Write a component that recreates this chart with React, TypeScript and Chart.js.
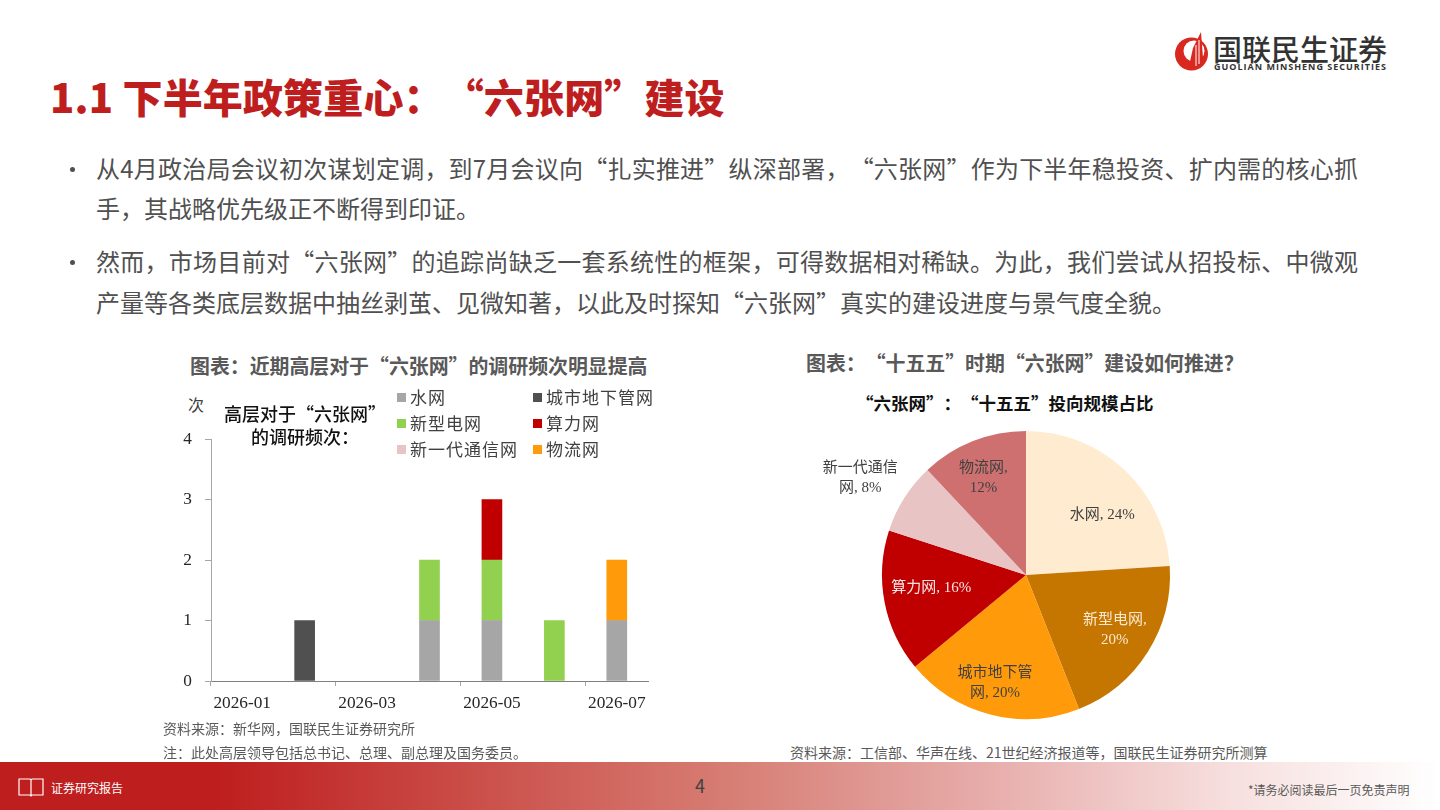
import React, { useEffect, useRef } from "react";
import { Chart, registerables } from "chart.js";

Chart.register(...registerables);

const months = ["2026-01", "2026-02", "2026-03", "2026-04", "2026-05", "2026-06", "2026-07"];
const water = [null, null, null, 1, 1, null, 1];
const urbanPipe = [null, 1, null, null, null, null, null];
const newGrid = [null, null, null, 1, 1, 1, null];
const computing = [null, null, null, null, 1, null, null];
const telecom = [null, null, null, null, null, null, null];
const logistics = [null, null, null, null, null, null, 1];

const pieLabels = ["水网", "新型电网", "城市地下管网", "算力网", "新一代通信网", "物流网"];
const pieValues = [24, 20, 20, 16, 8, 12];
const pieLines = [["水网, 24%"], ["新型电网,", "20%"], ["城市地下管", "网, 20%"], ["算力网, 16%"], ["新一代通信", "网, 8%"], ["物流网,", "12%"]];
const pieColors = ["#FFEBD0", "#C47600", "#FF9A0A", "#C00000", "#E8C4C4", "#CF7070"];
const pieNudge = [[27, -7], [28, 16], [-13, 38], [-24, 0], [-105, -58], [-16, -30]];

const SERIF = '"Liberation Serif","Noto Sans CJK SC",serif';
const SANS = '"Noto Sans CJK SC",sans-serif';
const AXIS = "#A6A6A6";

const abs = (left: number, top: number, extra: React.CSSProperties = {}): React.CSSProperties => ({
  position: "absolute", left, top, whiteSpace: "nowrap", ...extra,
});

const bodyLine = (left: number, top: number): React.CSSProperties =>
  abs(left, top, { width: 1262, fontSize: 24, color: "#505050", lineHeight: "40px", whiteSpace: "normal", textAlign: "justify", textAlignLast: "justify" });

const pieTextPlugin = {
  id: "pieText",
  afterDatasetsDraw(chart: any) {
    const { ctx } = chart;
    chart.getDatasetMeta(0).data.forEach((arc: any, i: number) => {
      const p = arc.tooltipPosition();
      const lines = pieLines[i];
      ctx.save();
      ctx.font = `15px ${SERIF}`;
      ctx.textAlign = "center";
      ctx.textBaseline = "middle";
      ctx.fillStyle = i === 1 ? "#FBE9D0" : i === 3 ? "#F7E6E6" : "#404040";
      lines.forEach((t, k) => {
        ctx.fillText(t, p.x + pieNudge[i][0], p.y + pieNudge[i][1] + (k - (lines.length - 1) / 2) * 20);
      });
      ctx.restore();
    });
  },
};

const legend = [
  ["水网", "#A6A6A6", 397, 397],
  ["城市地下管网", "#505050", 533, 397],
  ["新型电网", "#92D050", 397, 423],
  ["算力网", "#C00000", 533, 423],
  ["新一代通信网", "#E8C4C4", 397, 449],
  ["物流网", "#FF9A0A", 533, 449],
] as const;

export default function App() {
  const barRef = useRef<HTMLCanvasElement>(null);
  const pieRef = useRef<HTMLCanvasElement>(null);

  useEffect(() => {
    const mk = (label: string, data: (number | null)[], backgroundColor: string) => ({
      label, data, backgroundColor, stack: "s", barThickness: 20,
    });
    const bar = new Chart(barRef.current!, {
      type: "bar",
      data: {
        labels: months,
        datasets: [
          mk("水网", water, "#A6A6A6"),
          mk("城市地下管网", urbanPipe, "#505050"),
          mk("新型电网", newGrid, "#92D050"),
          mk("算力网", computing, "#C00000"),
          mk("新一代通信网", telecom, "#E8C4C4"),
          mk("物流网", logistics, "#FF9A0A"),
        ],
      },
      options: {
        animation: false,
        responsive: false,
        maintainAspectRatio: false,
        layout: { padding: { left: 0, right: 22, top: 9, bottom: 0 } },
        plugins: { legend: { display: false }, tooltip: { enabled: false } },
        scales: {
          x: {
            stacked: true,
            afterFit: (s: any) => { s.height = 39; s.paddingLeft = 0; s.paddingRight = 0; },
            grid: {
              display: true, drawOnChartArea: false, drawTicks: true, tickLength: 5, offset: true,
              tickColor: (c: any) => (c.index % 2 === 0 ? AXIS : "rgba(0,0,0,0)"),
            } as any,
            border: { color: "#808080" },
            ticks: { autoSkip: false, maxRotation: 0, padding: 7, color: "#262626", font: { family: SERIF, size: 17.3 },
              callback: (_v: any, i: number) => (i % 2 === 0 ? months[i] : "") },
          },
          y: {
            stacked: true, min: 0, max: 4,
            afterFit: (s: any) => { s.width = 61; s.paddingTop = 0; s.paddingBottom = 0; },
            grid: { display: true, drawOnChartArea: false, drawTicks: true, tickLength: 6, tickColor: AXIS } as any,
            border: { color: AXIS },
            ticks: { stepSize: 1, padding: 13, color: "#262626", font: { family: SERIF, size: 17.3 } },
          },
        },
      },
    });
    const pie = new Chart(pieRef.current!, {
      type: "pie",
      data: { labels: pieLabels, datasets: [{ data: pieValues, backgroundColor: pieColors, borderColor: "#FFFFFF", borderWidth: 0 }] },
      options: {
        animation: false,
        responsive: false,
        maintainAspectRatio: false,
        layout: { padding: { left: 66, right: 6, top: 6, bottom: 6 } },
        plugins: { legend: { display: false }, tooltip: { enabled: false } },
      },
      plugins: [pieTextPlugin],
    });
    return () => { bar.destroy(); pie.destroy(); };
  }, []);

  return (
    <div lang="zh-CN" style={{ position: "absolute", left: 0, top: 0, width: 1440, height: 810, background: "#fff", overflow: "hidden", fontFamily: SANS, textSpacingTrim: "space-all", fontKerning: "none", fontFeatureSettings: '"kern" 0, "chws" 0, "palt" 0, "halt" 0' } as any}>
      <div style={abs(50, 68, { fontSize: 40, fontWeight: 900, color: "#BE1E1E", lineHeight: "56px", letterSpacing: 0.15 })}>1.1 下半年政策重心：“六张网”建设</div>

      <svg width={50} height={50} style={abs(1170, 28)}>
        <circle cx={21.5} cy={26} r={16.5} fill="#D8281F" />
        <circle cx={24} cy={23} r={10.5} fill="#fff" />
        <path d="M19 38 L23 20 L31 4 L33 30 Q30 38 19 40 Z" fill="#D8281F" />
        <path d="M26 17 L26 38 M29 12 L29 36" stroke="#fff" strokeWidth={1} />
      </svg>
      <div style={abs(1213, 29, { fontSize: 29, fontWeight: 500, color: "#333", lineHeight: "38px" })}>国联民生证券</div>
      <div style={abs(1214, 61, { fontSize: 9, fontWeight: 700, letterSpacing: 1, color: "#333", lineHeight: "12px", fontFamily: '"Open Sans",sans-serif' })}>GUOLIAN MINSHENG SECURITIES</div>

      <div style={abs(70, 167, { width: 5, height: 5, borderRadius: 3, background: "#505050" })} />
      <div style={bodyLine(96, 148)}>从4月政治局会议初次谋划定调，到7月会议向“扎实推进”纵深部署，“六张网”作为下半年稳投资、扩内需的核心抓</div>
      <div style={abs(96, 188, { fontSize: 24, color: "#505050", lineHeight: "40px" })}>手，其战略优先级正不断得到印证。</div>
      <div style={abs(70, 260, { width: 5, height: 5, borderRadius: 3, background: "#505050" })} />
      <div style={bodyLine(96, 241)}>然而，市场目前对“六张网”的追踪尚缺乏一套系统性的框架，可得数据相对稀缺。为此，我们尝试从招投标、中微观</div>
      <div style={abs(96, 282, { fontSize: 24, color: "#505050", lineHeight: "40px" })}>产量等各类底层数据中抽丝剥茧、见微知著，以此及时探知“六张网”真实的建设进度与景气度全貌。</div>

      <div style={abs(190, 352, { fontSize: 19.9, fontWeight: 700, color: "#595959", lineHeight: "28px" })}>图表：近期高层对于“六张网”的调研频次明显提高</div>
      <div style={abs(806, 349, { fontSize: 19.9, fontWeight: 700, color: "#595959", lineHeight: "28px" })}>图表：“十五五”时期“六张网”建设如何推进？</div>

      <canvas ref={barRef} width={520} height={290} style={abs(150, 430, { width: 520, height: 290 })} />
      <div style={abs(188, 394, { fontSize: 16, color: "#404040", lineHeight: "20px" })}>次</div>
      <div style={abs(215, 402, { width: 180, textAlign: "center", fontSize: 18, fontWeight: 500, color: "#111", lineHeight: "23px" })}>高层对于“六张网”<br />的调研频次：</div>
      {legend.map(([t, c, x, y]) => (
        <React.Fragment key={t}>
          <div style={abs(x, y - 4, { width: 9, height: 9, background: c })} />
          <div style={abs(x + 13, y - 11, { fontSize: 17, color: "#404040", lineHeight: "22px", letterSpacing: 1 })}>{t}</div>
        </React.Fragment>
      ))}

      <div style={abs(163, 718, { fontSize: 14, color: "#595959", lineHeight: "20px" })}>资料来源：新华网，国联民生证券研究所</div>
      <div style={abs(163, 742, { fontSize: 14, color: "#595959", lineHeight: "20px" })}>注：此处高层领导包括总书记、总理、副总理及国务委员。</div>

      <div style={abs(856, 392, { fontSize: 17.5, fontWeight: 700, color: "#111", lineHeight: "22px" })}>“六张网”：“十五五”投向规模占比</div>
      <canvas ref={pieRef} width={360} height={300} style={abs(816, 425, { width: 360, height: 300 })} />
      <div style={abs(790, 742, { fontSize: 14, color: "#595959", lineHeight: "20px" })}>资料来源：工信部、华声在线、21世纪经济报道等，国联民生证券研究所测算</div>

      <div style={abs(0, 762, { width: 1440, height: 48, background: "linear-gradient(90deg,#BE1E1E 0%,#BE1E1E 15%,#D67C72 50%,#E7AEAC 69%,#F6DEDD 85%,#FFFFFF 100%)" })} />
      <svg width={26} height={22} style={abs(18, 777)}>
        <path d="M1 2 H12 L13 3 L14 2 H25 V18 H14 L13 19 L12 18 H1 Z M13 3 V19" fill="none" stroke="#fff" strokeWidth={1.2} />
      </svg>
      <div style={abs(51, 779, { fontSize: 12, color: "#fff", lineHeight: "18px" })}>证券研究报告</div>
      <div style={abs(695, 773, { fontSize: 18, color: "#404040", lineHeight: "24px" })}>4</div>
      <div style={abs(1248, 782, { fontSize: 12, color: "#595959", lineHeight: "16px" })}>*请务必阅读最后一页免责声明</div>
    </div>
  );
}
